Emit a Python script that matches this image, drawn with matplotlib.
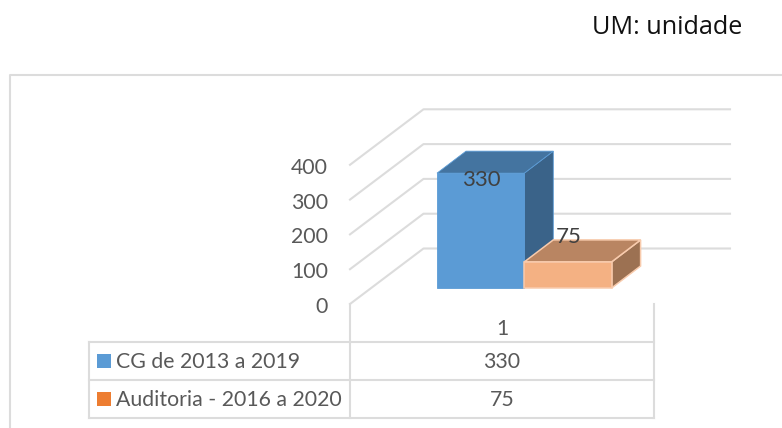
import matplotlib
matplotlib.use('Agg')
import matplotlib.pyplot as plt
from matplotlib.patches import Polygon, Rectangle

series_names = ['CG de 2013 a 2019', 'Auditoria - 2016 a 2020']
series_values = [330, 75]
category_labels = ['1']
y_ticks = [0, 100, 200, 300, 400]
front_colors = ['#5b9bd5', '#f4b183']
top_colors = ['#4474a0', '#b98562']
side_colors = ['#3a6389', '#9c7152']
edge_colors = ['#5b9bd5', '#f8cbad']
legend_colors = ['#5b9bd5', '#ed7d31']

plt.rcParams['font.family'] = ['Lato', 'DejaVu Sans']
grid = '#dcdcdc'
txt = '#595959'
fs = 15.3

fig = plt.figure(figsize=(7.82, 4.28), dpi=100)
ax = fig.add_axes([0, 0, 1, 1])
ax.set_xlim(0, 782)
ax.set_ylim(428, 0)
ax.axis('off')

# outer chart frame, cut off by the picture
ax.plot([10, 10, 782], [428, 75, 75], color=grid, lw=1.5)

ax.text(742, 27, 'UM: unidade', family='Open Sans', fontsize=18.2, color='#111111', ha='right', va='center')

# 3d walls
y0, px_per_unit = 304, 0.348
x0, dx, dy, xr = 350, 73.5, 55.5, 730
for t in y_ticks:
    yy = y0 - t * px_per_unit
    ax.plot([x0, x0 + dx, xr], [yy, yy - dy, yy - dy], color=grid, lw=1.5, zorder=1)
    ax.text(x0 - 22, yy + 3, str(t), fontsize=fs, color=txt, ha='right', va='center')

# bars
bar_w, bx, by, ddx, ddy = 87.3, 437, 288, 29, 22
for i, v in enumerate(series_values):
    left = bx + i * bar_w
    right = left + bar_w
    top = by - v * px_per_unit
    lw = 0.6 if i == 0 else 1.1
    ax.add_patch(Polygon([(right, by), (right + ddx, by - ddy), (right + ddx, top - ddy), (right, top)],
                         fc=side_colors[i], ec=edge_colors[i], lw=lw, zorder=2 + i))
    ax.add_patch(Polygon([(left, top), (left + ddx, top - ddy), (right + ddx, top - ddy), (right, top)],
                         fc=top_colors[i], ec=edge_colors[i], lw=lw, zorder=2 + i))
    ax.add_patch(Rectangle((left, top), bar_w, v * px_per_unit, fc=front_colors[i], ec=edge_colors[i], lw=lw, zorder=2 + i))
    ax.text(left + 44, top + 7 if i == 0 else top - 25, str(v), fontsize=16, color='#404040',
            ha='center', va='center', zorder=5)

# data table
tx = [89, 350, 654]
ty = [342, 380, 418]
for yy in ty:
    ax.plot([tx[0], tx[2]], [yy, yy], color=grid, lw=1.5, zorder=1)
ax.plot([tx[0], tx[0]], [ty[0], ty[2]], color=grid, lw=1.5, zorder=1)
for xx in tx[1:]:
    ax.plot([xx, xx], [y0, ty[2]], color=grid, lw=1.5, zorder=1)
ax.text(502, 329, category_labels[0], fontsize=fs, color=txt, ha='center', va='center')
for i, name in enumerate(series_names):
    cy = (ty[i] + ty[i + 1]) / 2
    ax.add_patch(Rectangle((97, cy - 7), 14, 14, fc=legend_colors[i], ec='none'))
    ax.text(116, cy + 1, name, fontsize=fs, color=txt, ha='left', va='center')
    ax.text(502, cy + 1, str(series_values[i]), fontsize=fs, color=txt, ha='center', va='center')

fig.savefig('out.png', dpi=100)
